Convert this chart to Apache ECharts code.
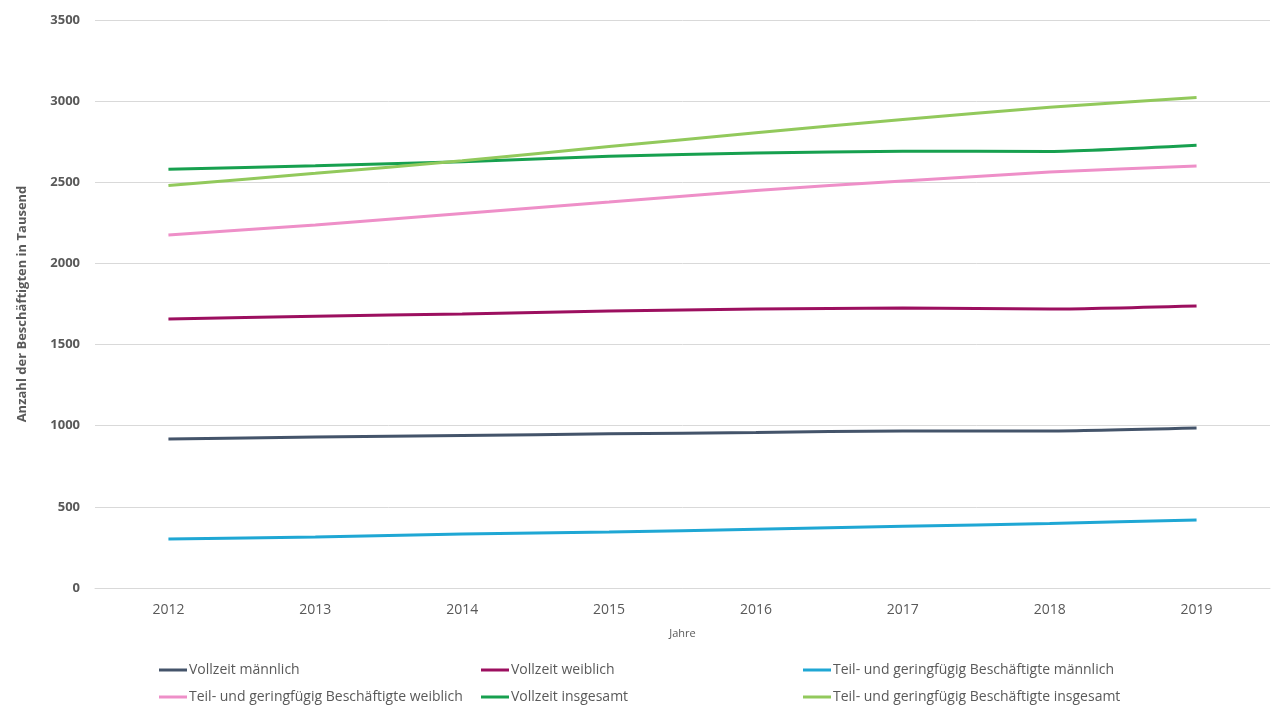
<!DOCTYPE html>
<html lang="de">
<head>
    <meta charset="UTF-8">
    <title>Beschäftigte</title>
    <script type="text/javascript" src="https://cdn.jsdelivr.net/npm/echarts@6/dist/echarts.min.js"></script>
    <style>
        html, body { margin: 0; padding: 0; background: #fff; }
    </style>
</head>
<body>
    <div id="main" style="width: 1280px;height:720px;"></div>
    <script type="text/javascript">
        const years = ['2012', '2013', '2014', '2015', '2016', '2017', '2018', '2019'];
        const seriesNames = [
            'Vollzeit männlich',
            'Vollzeit weiblich',
            'Teil- und geringfügig Beschäftigte männlich',
            'Teil- und geringfügig Beschäftigte weiblich',
            'Vollzeit insgesamt',
            'Teil- und geringfügig Beschäftigte insgesamt'
        ];
        const vollzeitMaennlich = [918, 930, 940, 950, 958, 968, 968, 986];
        const vollzeitWeiblich = [1657, 1675, 1688, 1707, 1719, 1725, 1719, 1738];
        const teilzeitMaennlich = [302, 315, 332, 345, 362, 380, 398, 419];
        const teilzeitWeiblich = [2175, 2237, 2308, 2378, 2450, 2508, 2563, 2600];
        const vollzeitGesamt = [2580, 2602, 2627, 2660, 2680, 2692, 2690, 2728];
        const teilzeitGesamt = [2480, 2555, 2632, 2720, 2805, 2887, 2962, 3022];
        const colors = ['#44546a', '#9c0f5f', '#1fa7d4', '#ee8fc8', '#17a04f', '#92c95c'];

        const allValues = [vollzeitMaennlich, vollzeitWeiblich, teilzeitMaennlich,
            teilzeitWeiblich, vollzeitGesamt, teilzeitGesamt];

        // legend layout: 3 columns, 2 rows
        const legendCols = [159, 481, 803];
        const legendRows = [663, 690];

        const legends = seriesNames.map(function (name, i) {
            return {
                data: [name],
                left: legendCols[i % 3],
                top: legendRows[Math.floor(i / 3)],
                padding: 0,
                itemWidth: 28,
                itemHeight: 3,
                itemGap: 0,
                icon: 'rect',
                selectedMode: false,
                textStyle: {
                    fontFamily: 'Open Sans, sans-serif',
                    fontSize: 14,
                    color: '#595959',
                    padding: [0, 0, 0, -3]
                }
            };
        });

        const myChart = echarts.init(document.getElementById('main'));
        const option = {
            animation: false,
            color: colors,
            grid: {
                left: 95,
                right: 10,
                top: 20,
                bottom: 132
            },
            legend: legends,
            xAxis: {
                type: 'category',
                data: years,
                boundaryGap: true,
                axisLine: { lineStyle: { color: '#d9d9d9' } },
                axisTick: { show: false },
                axisLabel: {
                    margin: 15,
                    fontFamily: 'Open Sans, sans-serif',
                    fontSize: 14,
                    color: '#595959'
                },
                name: 'Jahre',
                nameLocation: 'middle',
                nameGap: 40,
                nameTextStyle: {
                    fontFamily: 'Open Sans, sans-serif',
                    fontSize: 11,
                    color: '#595959'
                }
            },
            yAxis: {
                type: 'value',
                min: 0,
                max: 3500,
                interval: 500,
                axisLine: { show: false },
                axisTick: { show: false },
                splitLine: { lineStyle: { color: '#d9d9d9' } },
                axisLabel: {
                    margin: 15,
                    formatter: function (v) { return String(v); },
                    fontFamily: 'Open Sans, sans-serif',
                    fontWeight: 'bold',
                    fontSize: 13,
                    color: '#595959'
                },
                name: 'Anzahl der Beschäftigten in Tausend',
                nameLocation: 'middle',
                nameRotate: 90,
                nameGap: 66,
                nameTextStyle: {
                    fontFamily: 'Open Sans, sans-serif',
                    fontWeight: 'bold',
                    fontSize: 13,
                    color: '#595959'
                }
            },
            series: seriesNames.map(function (name, i) {
                return {
                    name: name,
                    type: 'line',
                    data: allValues[i],
                    smooth: 0.2,
                    symbol: 'none',
                    lineStyle: { width: 3, color: colors[i] },
                    itemStyle: { color: colors[i] }
                };
            })
        };
        myChart.setOption(option);
    </script>
</body>
</html>
